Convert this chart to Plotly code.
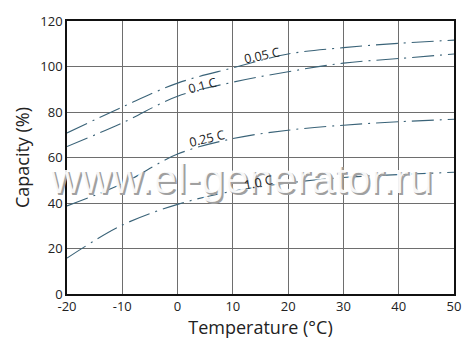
import plotly.graph_objects as go

temps = [-20, -10, 0, 10, 20, 30, 40, 50]
c005 = [70.8, 82.2, 92.7, 99.4, 105.5, 108.3, 110.2, 111.6]
c01 = [64.8, 75.2, 86.9, 93.1, 97.7, 101.5, 103.5, 105.5]
c025 = [38.7, 48.5, 61.5, 68.3, 72.0, 74.2, 75.7, 76.8]
c10 = [15.8, 30.3, 39.4, 45.2, 48.8, 51.2, 52.5, 53.5]

series = [("0.05 C", c005), ("0.1 C", c01), ("0.25 C", c025), ("1.0 C", c10)]
labels = [
    ("0.05 C", 15.2, 104.8, -12),
    ("0.1 C", 4.5, 91.7, -15),
    ("0.25 C", 5.3, 68.3, -13),
    ("1.0 C", 14.6, 49.1, -12),
]

x_ticks = [-20, -10, 0, 10, 20, 30, 40, 50]
y_ticks = [0, 20, 40, 60, 80, 100, 120]

line_color = "#3a6378"
font_family = "'Open Sans', Lato, sans-serif"

fig = go.Figure()
for name, vals in series:
    fig.add_trace(go.Scatter(
        x=temps, y=vals, mode="lines", name=name,
        line=dict(color=line_color, width=1.1, shape="spline", dash="22px,6px,2px,6px"),
        showlegend=False, hoverinfo="skip",
    ))

annotations = []
# watermark: gray shadow + white face
annotations.append(dict(
    text="www.el-generator.ru", x=11.4, y=50.9, xref="x", yref="y",
    showarrow=False, xshift=2, yshift=-2,
    font=dict(family="Liberation Sans, Arial, sans-serif", size=43, color="#a0a0a0"),
))
annotations.append(dict(
    text="www.el-generator.ru", x=11.4, y=50.9, xref="x", yref="y",
    showarrow=False,
    font=dict(family="Liberation Sans, Arial, sans-serif", size=43, color="rgba(255,255,255,0.92)"),
))
for txt, lx, ly, ang in labels:
    annotations.append(dict(
        text=txt, x=lx, y=ly, xref="x", yref="y", showarrow=False,
        textangle=ang, font=dict(family=font_family, size=12.5, color="#222222"),
    ))

fig.update_layout(
    width=473, height=348,
    margin=dict(l=67, r=18, t=18, b=54),
    paper_bgcolor="white", plot_bgcolor="white",
    font=dict(family=font_family, color="#222222"),
    annotations=annotations,
)
fig.update_xaxes(
    range=[-20, 50], tickvals=x_ticks, ticktext=[str(v) for v in x_ticks],
    showgrid=True, gridcolor="#6e6e6e", gridwidth=1,
    showline=True, linecolor="#111111", linewidth=1.5, mirror=True,
    ticks="", tickfont=dict(size=13), zeroline=False,
    title=dict(text="Temperature (°C)", font=dict(size=18), standoff=5),
)
fig.update_yaxes(
    range=[0, 120], tickvals=y_ticks, ticktext=[str(v) for v in y_ticks],
    showgrid=True, gridcolor="#6e6e6e", gridwidth=1,
    showline=True, linecolor="#111111", linewidth=1.5, mirror=True,
    ticks="", tickfont=dict(size=13), zeroline=False,
    title=dict(text="Capacity (%)", font=dict(size=18), standoff=6),
)

fig.write_html("out.html")
